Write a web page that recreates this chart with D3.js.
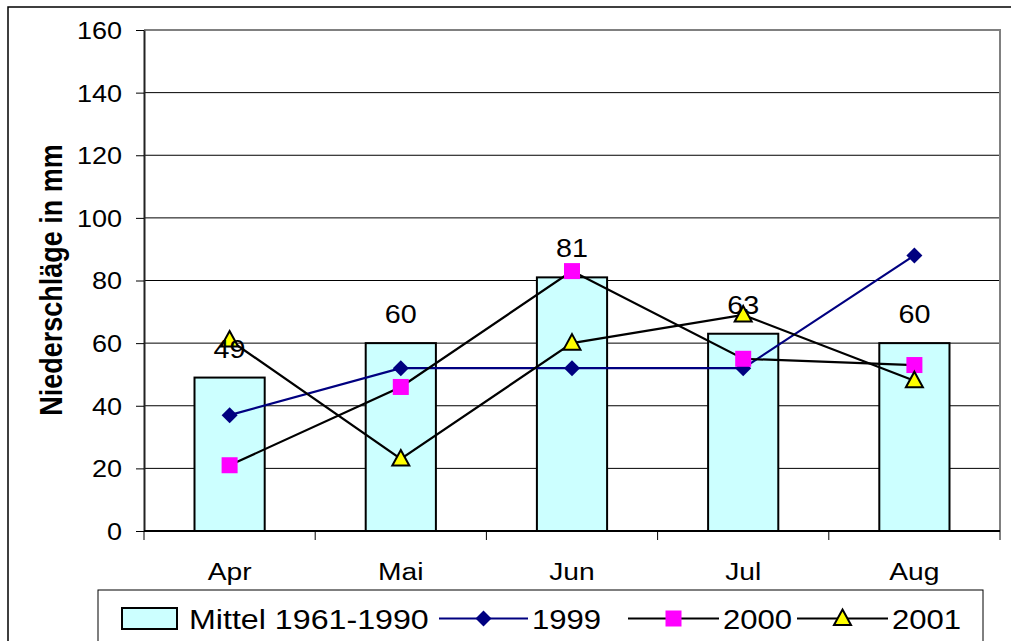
<!DOCTYPE html>
<html>
<head>
<meta charset="utf-8">
<script src="https://cdn.jsdelivr.net/npm/d3@7"></script>
<style>
  html, body { margin: 0; padding: 0; background: #fff; }
  svg { display: block; }
  text { font-family: "Liberation Sans", Arial, sans-serif; fill: #000; }
</style>
</head>
<body>
<svg id="chart" width="1011" height="641"></svg>
<script>
// Monthly precipitation (mm), long-term mean vs. the years 1999-2001
const categories = ["Apr", "Mai", "Jun", "Jul", "Aug"];
const mittel = [49, 60, 81, 63, 60];
const s1999 = [37, 52, 52, 52, 88];
const s2000 = [21, 46, 83, 55, 53];
const s2001 = [61, 23, 60, 69, 48];
const yTicks = [0, 20, 40, 60, 80, 100, 120, 140, 160];
const legendLabels = ["Mittel 1961-1990", "1999", "2000", "2001"];

const SX = 1.15; // horizontal text stretch of the chart typography

const svg = d3.select("#chart");
const plot = { left: 144, right: 1000, top: 30, bottom: 531 };

const x = d3.scaleBand().domain(categories).range([plot.left, plot.right]).padding(0);
const y = d3.scaleLinear().domain([0, 160]).range([plot.bottom, plot.top]);
const cx = c => x(c) + x.bandwidth() / 2;

function placeText(sel, tx, ty, rot) {
  sel.attr("x", 0).attr("y", 0)
     .attr("transform", `translate(${tx},${ty}) scale(${SX},1)` + (rot ? ` rotate(${rot})` : ""));
  return sel;
}

// chart area frame
svg.append("rect").attr("x", 8).attr("y", 7).attr("width", 1030).attr("height", 660)
  .attr("fill", "#fff").attr("stroke", "#000").attr("stroke-width", 1.5);

// gridlines
svg.append("g").selectAll("line").data(yTicks.filter(t => t > 0 && t < 160)).join("line")
  .attr("x1", plot.left).attr("x2", plot.right)
  .attr("y1", d => y(d)).attr("y2", d => y(d))
  .attr("stroke", "#000").attr("stroke-width", 1);

// plot area top / right border
svg.append("path")
  .attr("d", `M${plot.left},${plot.top}H${plot.right}V${plot.bottom}`)
  .attr("fill", "none").attr("stroke", "#808080").attr("stroke-width", 2);

// y axis
const yAxis = svg.append("g").attr("transform", `translate(${plot.left},0)`)
  .call(d3.axisLeft(y).tickValues(yTicks).tickSize(8).tickSizeOuter(0).tickFormat(d3.format("d")));
yAxis.select(".domain").attr("stroke", "#222").attr("stroke-width", 2);
yAxis.selectAll(".tick line").attr("stroke", "#000").attr("stroke-width", 1);
yAxis.selectAll(".tick text").each(function () {
  const t = d3.select(this);
  t.attr("dy", "0.36em").attr("text-anchor", "end")
   .style("font-size", "23.5px").style("font-family", "Liberation Sans, Arial, sans-serif");
  placeText(t, -22, 0);
});

// x axis with ticks at category boundaries
const xAxisG = svg.append("g");
xAxisG.append("line").attr("x1", plot.left).attr("x2", plot.right)
  .attr("y1", plot.bottom).attr("y2", plot.bottom)
  .attr("stroke", "#000").attr("stroke-width", 2);
const bounds = categories.map(c => x(c)).concat([x(categories[categories.length - 1]) + x.bandwidth()]);
xAxisG.selectAll("line.tk").data(bounds).join("line").attr("class", "tk")
  .attr("x1", d => d).attr("x2", d => d)
  .attr("y1", plot.bottom).attr("y2", plot.bottom + 9)
  .attr("stroke", "#000").attr("stroke-width", 1);
xAxisG.selectAll("text").data(categories).join("text")
  .attr("text-anchor", "middle").style("font-size", "24.5px")
  .text(d => d)
  .each(function (d) { placeText(d3.select(this), cx(d), 580); });

// y axis title
placeText(svg.append("text").text("Niederschläge in mm")
  .attr("text-anchor", "middle").style("font-size", "27px").style("font-weight", "bold"),
  62, 280, -90);

// bars: long-term mean
const barW = x.bandwidth() * 0.41;
svg.append("g").selectAll("rect").data(mittel).join("rect")
  .attr("x", (d, i) => cx(categories[i]) - barW / 2)
  .attr("y", d => y(d))
  .attr("width", barW)
  .attr("height", d => y(0) - y(d))
  .attr("fill", "#CCFFFF").attr("stroke", "#000").attr("stroke-width", 2);

// marker shapes
function drawMarker(g, kind, px, py) {
  if (kind === "diamond") {
    g.append("path").attr("d", "M0,-8L8,0L0,8L-8,0Z")
      .attr("transform", `translate(${px},${py})`).attr("fill", "#000080");
  } else if (kind === "square") {
    g.append("rect").attr("x", px - 8).attr("y", py - 8).attr("width", 16).attr("height", 16)
      .attr("fill", "#FF00FF");
  } else {
    g.append("path").attr("d", "M0,-9L8.5,6.5L-8.5,6.5Z")
      .attr("transform", `translate(${px},${py})`)
      .attr("fill", "#FFFF00").attr("stroke", "#000").attr("stroke-width", 2)
      .attr("stroke-linejoin", "miter");
  }
}

const series = [
  { values: s1999, color: "#000080", marker: "diamond" },
  { values: s2000, color: "#000", marker: "square" },
  { values: s2001, color: "#000", marker: "triangle" }
];
const line = d3.line().x((d, i) => cx(categories[i])).y(d => y(d));

series.forEach(s => {
  const g = svg.append("g");
  g.append("path").attr("d", line(s.values))
    .attr("fill", "none").attr("stroke", s.color).attr("stroke-width", 2.2);
  s.values.forEach((v, i) => drawMarker(g, s.marker, cx(categories[i]), y(v)));
});

// value labels on bars
svg.append("g").selectAll("text").data(mittel).join("text")
  .attr("text-anchor", "middle").style("font-size", "25px")
  .text(d => d)
  .each(function (d, i) { placeText(d3.select(this), cx(categories[i]), y(d) - 20); });

// legend
const lg = svg.append("g");
lg.append("rect").attr("x", 98).attr("y", 590).attr("width", 885).attr("height", 80)
  .attr("fill", "#fff").attr("stroke", "#000").attr("stroke-width", 1);
const ly = 618.5;
lg.append("rect").attr("x", 122).attr("y", 608).attr("width", 55).attr("height", 21)
  .attr("fill", "#CCFFFF").attr("stroke", "#000").attr("stroke-width", 2);
placeText(lg.append("text").text(legendLabels[0]).style("font-size", "28px"), 189, ly + 10);

const legendItems = [
  { s: series[0], x0: 439, x1: 528, label: legendLabels[1] },
  { s: series[1], x0: 628, x1: 719, label: legendLabels[2] },
  { s: series[2], x0: 797, x1: 888, label: legendLabels[3] }
];
legendItems.forEach(it => {
  lg.append("line").attr("x1", it.x0).attr("x2", it.x1).attr("y1", ly).attr("y2", ly)
    .attr("stroke", it.s.color).attr("stroke-width", 2.2);
  drawMarker(lg, it.s.marker, (it.x0 + it.x1) / 2, ly);
  placeText(lg.append("text").text(it.label).style("font-size", "27px"), it.x1 + 4, ly + 10);
});
</script>
</body>
</html>
